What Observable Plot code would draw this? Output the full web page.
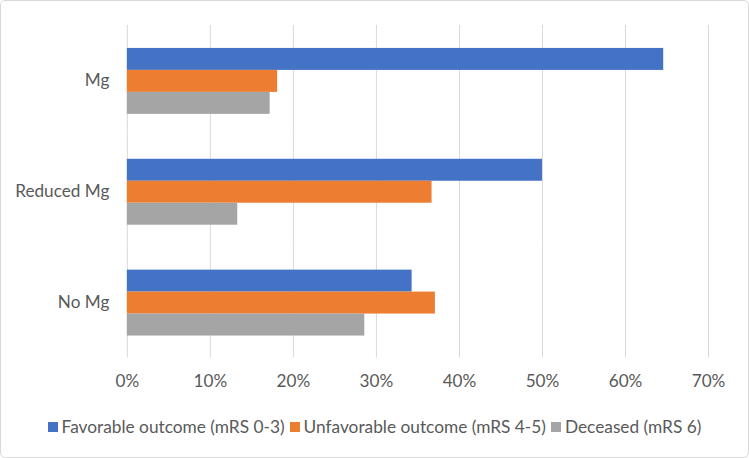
<!DOCTYPE html>
<html>
<head>
<meta charset="utf-8">
<script src="https://cdn.jsdelivr.net/npm/d3@7"></script>
<script src="https://cdn.jsdelivr.net/npm/@observablehq/plot@0.6"></script>
<style>
  html, body { margin: 0; padding: 0; background: #fff; }
  #frame {
    position: relative; width: 747px; height: 456px;
    border: 1px solid #d9d9d9; border-radius: 5px; overflow: hidden;
    font-family: Lato, "Open Sans", sans-serif; color: #595959;
  }
  #chart { position: absolute; left: -1px; top: -1px; }
  #legend {
    position: absolute; left: 0; right: 0; top: 415px;
    display: flex; justify-content: center; gap: 5px;
    font-size: 17.3px; line-height: 22px; color: #595959; white-space: nowrap;
  }
  .item { display: flex; align-items: center; gap: 4px; }
  .sw { width: 10px; height: 10px; display: inline-block; }
</style>
</head>
<body>
<div id="frame">
  <div id="chart"></div>
  <div id="legend"></div>
</div>
<script>
const groups = ["Mg", "Reduced Mg", "No Mg"];
const seriesNames = ["Favorable outcome (mRS 0-3)", "Unfavorable outcome (mRS 4-5)", "Deceased (mRS 6)"];
const favorable = [64.6, 50.0, 34.3];
const unfavorable = [18.1, 36.7, 37.1];
const deceased = [17.2, 13.3, 28.6];
const colors = ["#4472C4", "#ED7D31", "#A5A5A5"];
const xTicks = [0, 10, 20, 30, 40, 50, 60, 70];

const seriesValues = [favorable, unfavorable, deceased];
const data = [];
groups.forEach((g, gi) => {
  seriesNames.forEach((s, si) => {
    data.push({group: g, series: s, value: seriesValues[si][gi]});
  });
});

const chart = Plot.plot({
  width: 749,
  height: 400,
  marginLeft: 127,
  marginRight: 40,
  marginTop: 24,
  marginBottom: 41,
  style: {fontFamily: "Lato, 'Open Sans', sans-serif", fontSize: "17.2px", color: "#595959", background: "transparent"},
  x: {domain: [0, 70], ticks: xTicks},
  y: {domain: seriesNames, axis: null, paddingInner: 0, paddingOuter: 0.93},
  fy: {domain: groups, padding: 0, label: null},
  color: {domain: seriesNames, range: colors},
  marks: [
    Plot.gridX(xTicks, {stroke: "#d9d9d9", strokeOpacity: 1, strokeWidth: 1}),
    Plot.barX(data, {x: "value", y: "series", fy: "group", fill: "series", inset: 0}),
    Plot.axisX({ticks: xTicks, tickSize: 0, tickPadding: 17, tickFormat: d => d + "%", label: null, fill: "#595959"}),
    Plot.axisFy({anchor: "left", tickSize: 0, tickPadding: 18, label: null, fill: "#595959"})
  ]
});
document.getElementById("chart").appendChild(chart);

const legend = document.getElementById("legend");
seriesNames.forEach((s, i) => {
  const item = document.createElement("div");
  item.className = "item";
  const sw = document.createElement("span");
  sw.className = "sw";
  sw.style.background = colors[i];
  const t = document.createElement("span");
  t.textContent = s;
  item.appendChild(sw);
  item.appendChild(t);
  legend.appendChild(item);
});
</script>
</body>
</html>
